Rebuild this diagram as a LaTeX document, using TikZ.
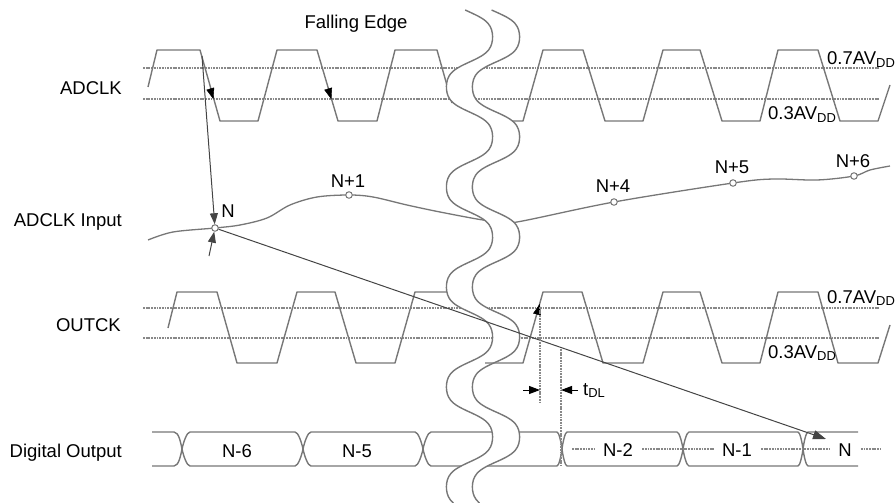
\documentclass[tikz,border=0pt]{standalone}
\usepackage{fontspec}
\setmainfont{Liberation Sans}
\usetikzlibrary{arrows.meta}
\definecolor{wavec}{HTML}{777777}
\definecolor{dotc}{HTML}{888888}
\definecolor{connc}{HTML}{444444}
\tikzset{
  wave/.style={draw=wavec, line width=1.4pt, line join=round},
  thr/.style={draw=dotc, line width=1.6pt, dash pattern=on 1.8pt off 0.9pt},
  brk/.style={draw=wavec, line width=1.4pt},
  conn/.style={draw=connc, line width=1pt},
  arr/.style={conn, -{Triangle[length=11pt,width=8pt]}},
  tiponly/.style={draw=black, line width=0.4pt, -{Triangle[length=11pt,width=8pt]}},
  lbl/.style={font=\fontsize{18.5}{22}\selectfont, inner sep=0pt},
  seg/.style={lbl, fill=white, inner xsep=8pt, inner ysep=1pt},
  pt/.style={circle, draw=wavec, fill=white, line width=1pt, inner sep=0pt, minimum size=6.5pt},
}
\newcommand{\busseg}[4]{%
 \draw[wave] (#1,449) .. controls ({#1+0.15*#3},443) and ({#1+0.6*#3},432) .. ({#1+#3},432) -- ({#2-#4},432)
   .. controls ({#2-0.6*#4},432) and ({#2-0.15*#4},443) .. (#2,449)
   .. controls ({#2-0.15*#4},455) and ({#2-0.6*#4},466) .. ({#2-#4},466) -- ({#1+#3},466)
   .. controls ({#1+0.6*#3},466) and ({#1+0.15*#3},455) .. (#1,449) -- cycle;}
\begin{document}
\begin{tikzpicture}[x=1pt,y=-1pt]
\useasboundingbox (0,0) rectangle (895,503);
% threshold lines
\draw[thr] (143,68) -- (880,68);
\draw[thr] (143,99) -- (880,99);
\draw[thr] (143,308) -- (880,308);
\draw[thr] (143,338) -- (880,338);
% ADCLK
\draw[wave] (148,87) -- (157,50) -- (200,50) -- (220,121) -- (258,121) -- (277,50) -- (317,50) -- (338,121) -- (377,121) -- (395,50) -- (437,50) -- (452,103);
\draw[wave] (500,121) -- (523,121) -- (543,50) -- (583,50) -- (605,121) -- (643,121) -- (663,50) -- (700,50) -- (722,121) -- (760,121) -- (778,50) -- (818,50) -- (840,121) -- (878,121) -- (890,85);
% OUTCK
\draw[wave] (168,328) -- (177,292) -- (217,292) -- (237,363) -- (277,363) -- (297,292) -- (335,292) -- (356,363) -- (395,363) -- (415,292) -- (458,292);
% ADCLK input
\draw[wave, line width=1.3pt] plot[smooth, tension=0.55] coordinates {(148,240) (173,232) (215,228) (240,225) (267,218) (290,205) (317,197) (349,195) (373,197) (407,205) (440,212) (483,220) (500,221) (517,222) (614,202) (733,183) (773,179) (817,180) (854,176) (870,170) (890,166)};
% Digital output bus
\draw[wave] (152,432) -- (174,432) .. controls (178.8,432) and (180.8,443) .. (182,449) .. controls (180.8,455) and (178.8,466) .. (174,466) -- (152,466);
\busseg{182}{303}{8}{8}
\busseg{303}{423}{8}{8}
\busseg{423}{562}{8}{5}
\busseg{562}{683}{5}{6}
\busseg{683}{803}{6}{5}
\draw[wave] (858,432) -- (808,432) .. controls (806,432) and (803.8,443) .. (803,449) .. controls (803.8,455) and (806,466) .. (808,466) -- (858,466);
\draw[thr, line width=1.2pt] (572,449) -- (880,449);
% break band
\fill[white] plot[variable=\t, domain=10:503, samples=150] ({469.5+26.8*tanh(1.3*cos(3.6*(\t-37)))},{\t})
  -- plot[variable=\t, domain=503:10, samples=150] ({496+27.4*tanh(1.3*cos(3.6*(\t-37)))},{\t}) -- cycle;
\draw[brk] plot[variable=\t, domain=10:503, samples=150, smooth] ({469.5+26.8*tanh(1.3*cos(3.6*(\t-37)))},{\t});
\draw[brk] plot[variable=\t, domain=10:503, samples=150, smooth] ({496+27.4*tanh(1.3*cos(3.6*(\t-37)))},{\t});
% OUTCK right part
\draw[wave] (485,363) -- (523,363) -- (543,292) -- (582,292) -- (603,363) -- (643,363) -- (663,292) -- (700,292) -- (722,363) -- (760,363) -- (778,292) -- (818,292) -- (838,363) -- (878,363) -- (890,325);
% sample points
\node[pt] (pN) at (215,228) {};
\node[pt] (pN1) at (349,195) {};
\node[pt] (pN4) at (614,202) {};
\node[pt] (pN5) at (733,183) {};
\node[pt] (pN6) at (854,176) {};
% connectors
\coordinate (fe1) at (202,56);
\coordinate (nb) at (209,256);
\coordinate (dN) at (826,439);
\draw[arr] (fe1) -- (pN);
\draw[arr] (nb) -- (pN);
\draw[arr, -{Triangle[length=13pt,width=9pt]}] (pN) -- (dN);
% edge arrowheads
\coordinate (a1s) at (212.6,96.5); \coordinate (a1e) at (213.4,99.2);
\coordinate (a2s) at (330.5,96.5); \coordinate (a2e) at (331.3,99.2);
\coordinate (a3s) at (539.1,306.5); \coordinate (a3e) at (539.8,303.8);
\draw[tiponly] (a1s) -- (a1e);
\draw[tiponly] (a2s) -- (a2e);
\draw[tiponly] (a3s) -- (a3e);
% t_DL
\coordinate (v1t) at (540,307); \coordinate (v1b) at (540,404);
\coordinate (v2t) at (561,349); \coordinate (v2b) at (561,466);
\draw[thr, line width=1.2pt] (v1t) -- (v1b);
\draw[thr, line width=1.2pt] (v2t) -- (v2b);
\coordinate (t1s) at (523,390); \coordinate (t1e) at (540,390);
\coordinate (t2s) at (578,390); \coordinate (t2e) at (561,390);
\draw[arr, draw=black] (t1s) -- (t1e);
\draw[arr, draw=black] (t2s) -- (t2e);
\node[lbl, anchor=base west] (tdl) at (583,395) {t\textsubscript{DL}};
% labels
\node[lbl, anchor=base] (fall) at (356,29) {Falling Edge};
\node[lbl, anchor=base east] (lA) at (122,94.5) {ADCLK};
\node[lbl, anchor=base east] (lI) at (122,226) {ADCLK Input};
\node[lbl, anchor=base east] (lO) at (121,331.5) {OUTCK};
\node[lbl, anchor=base east] (lD) at (122,457) {Digital Output};
\node[lbl, anchor=base west] (h1) at (827,65) {0.7AV\textsubscript{DD}};
\node[lbl, anchor=base west] (l1) at (768,120) {0.3AV\textsubscript{DD}};
\node[lbl, anchor=base west] (h2) at (827,303) {0.7AV\textsubscript{DD}};
\node[lbl, anchor=base west] (l2) at (768,358) {0.3AV\textsubscript{DD}};
\node[lbl, anchor=base] (tN) at (228,217) {N};
\node[lbl, anchor=base] (tN1) at (348,187) {N+1};
\node[lbl, anchor=base] (tN4) at (613,192) {N+4};
\node[lbl, anchor=base] (tN5) at (732,173) {N+5};
\node[lbl, anchor=base] (tN6) at (853,167) {N+6};
\node[lbl, anchor=base] (d6) at (237,457) {N-6};
\node[lbl, anchor=base] (d5) at (357,457) {N-5};
\node[seg, anchor=base] (d2) at (618,456) {N-2};
\node[seg, anchor=base] (d1) at (737,456) {N-1};
\node[seg, anchor=base] (d0) at (845,456) {N};
\end{tikzpicture}
\end{document}
